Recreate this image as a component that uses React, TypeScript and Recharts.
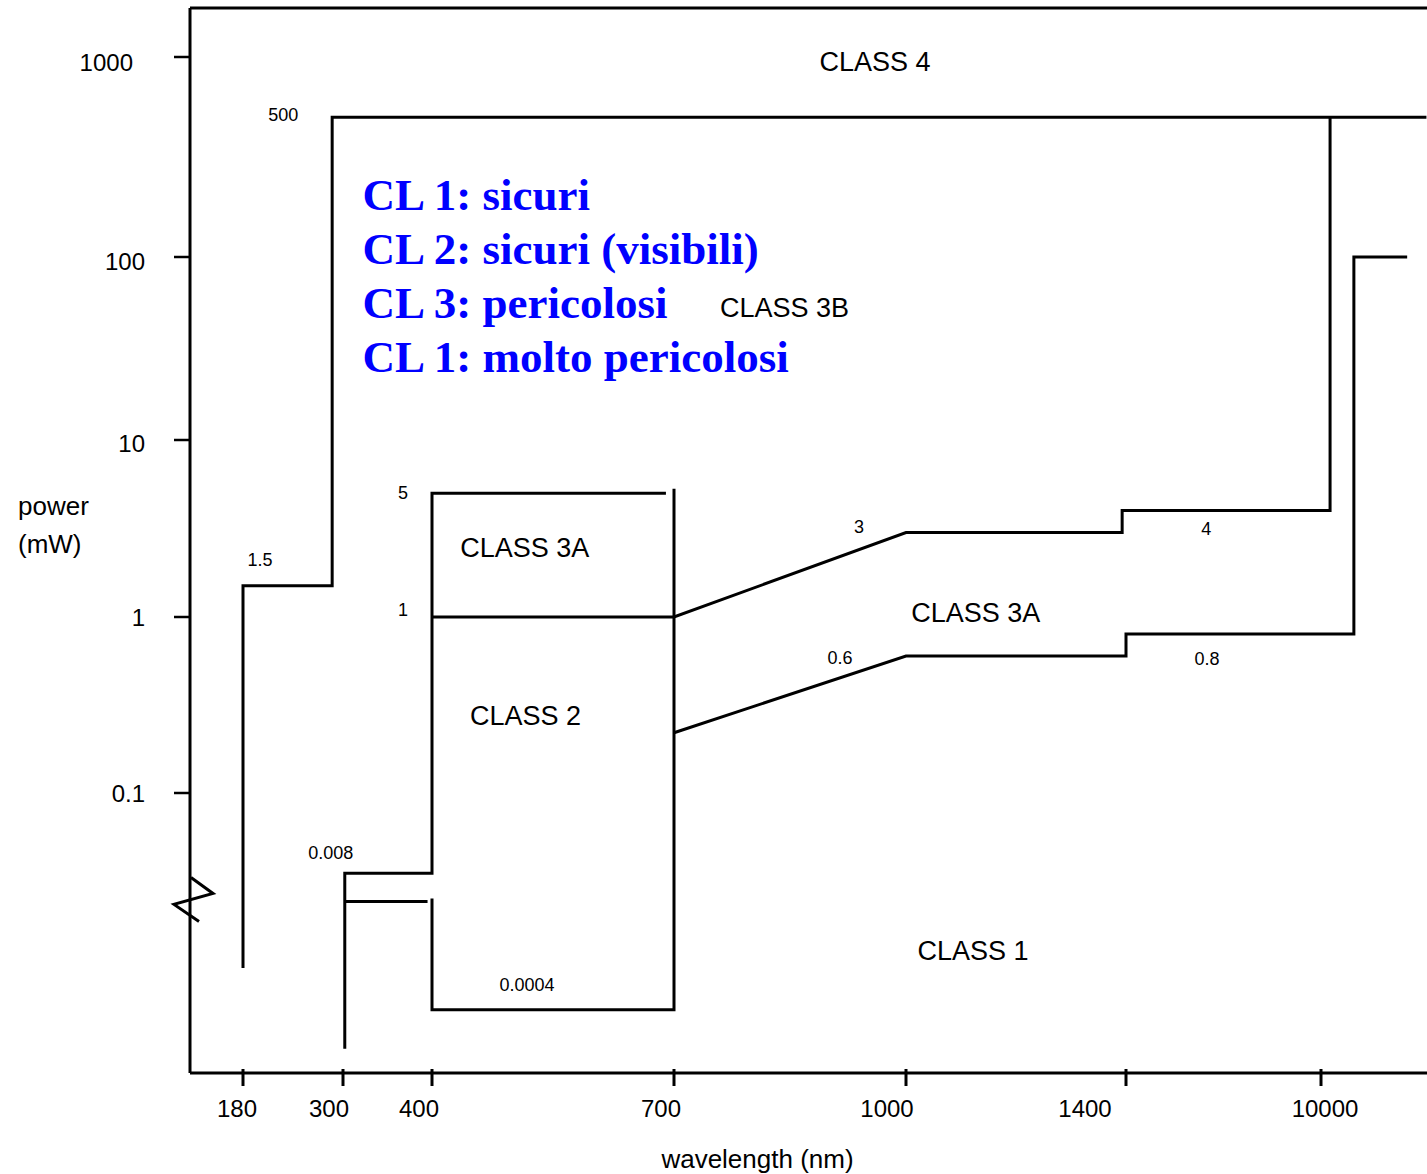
import React from "react";
import { ComposedChart, Line, Scatter, XAxis, YAxis, ReferenceLine } from "recharts";

// axis ticks (the drawing uses a hand-spaced wavelength axis and a broken log power axis)
const X_TICKS = [180, 300, 400, 700, 1000, 1400, 10000];
const Y_TICKS = [0.1, 1, 10, 100, 1000];

// class boundaries, [wavelength nm, power mW]
const class4Edge = [[180, 0.001], [180, 1.5], [287, 1.5], [287, 500], [14650, 500]];
const uvUpper = [[302, 0.00017], [302, 0.008], [400, 0.008], [400, 5], [690, 5]];
const uvLower = [[302, 0.0043], [395, 0.0043]];
const visibleBox = [[400, 0.0046], [400, 0.0004], [700, 0.0004], [700, 5.3]];
const class3aUpper = [[400, 1], [700, 1], [1000, 3], [1393, 3], [1393, 4], [10400, 4], [10400, 500]];
const class3aLower = [[700, 0.22], [1000, 0.6], [1400, 0.6], [1400, 0.8], [11450, 0.8], [11450, 100], [13800, 100]];

// limit values written next to the boundaries
const valueText = ["500", "1.5", "5", "1", "3", "4", "0.6", "0.8", "0.008", "0.0004"];
const valueAt = [[287, 500], [180, 1.5], [400, 5], [400, 1], [1000, 3], [1393, 4], [1000, 0.6], [1400, 0.8], [302, 0.008], [400, 0.0004]];

// region names
const classText = ["CLASS 4", "CLASS 3B", "CLASS 3A", "CLASS 2", "CLASS 3A", "CLASS 1"];
const classAt = [[960, 944], [843, 52.6], [515, 2.45], [516, 0.274], [1127, 1.05], [1122, 0.00145]];

const noteLines = ["CL 1: sicuri", "CL 2: sicuri (visibili)", "CL 3: pericolosi", "CL 1: molto pericolosi"];
const noteAt = [322, 172];
const breakAt = 0.0045;

// ---- scale shape (pixel offsets of the ticks inside the plot) ----
const X_AXIS_POS = [53, 153, 242, 484, 716, 936, 1131];
const Y_LOG_STOPS = [-4, -2, -1, 0, 1, 2, 3];
const Y_AXIS_POS = [0, 210, 280, 456, 633, 816, 1016];
const X_MAX = 1237;
const Y_MAX = 1065;

// label nudges, px
const VALUE_NUDGE = [[-49, -2], [17, -26], [-29, 0], [-29, -7], [-47, -6], [84, 19], [-66, 2], [81, 25], [-14, -20], [95, -25]];
const X_TICK_NUDGE = [-6, -14, -13, -13, -19, -41, 4];
const Y_TICK_NUDGE = [[0, 0], [0, 0], [0, 3], [0, 4], [-12, 5]];

const SANS = "'Liberation Sans', Arial, sans-serif";

function interp(v: number, xs: number[], ys: number[]) {
  let i = 0;
  while (i < xs.length - 2 && v > xs[i + 1]) i++;
  const t = (v - xs[i]) / (xs[i + 1] - xs[i]);
  return ys[i] + t * (ys[i + 1] - ys[i]);
}
const tx = (w: number) => interp(w, X_TICKS, X_AXIS_POS);
const ty = (p: number) => interp(Math.log10(p), Y_LOG_STOPS, Y_AXIS_POS);
const toPts = (path: number[][]) => path.map(([w, p]) => ({ x: tx(w), y: ty(p) }));

const paths = [class4Edge, uvUpper, uvLower, visibleBox, class3aUpper, class3aLower];

const valueData = valueText.map((text, i) => ({ x: tx(valueAt[i][0]), y: ty(valueAt[i][1]), text, i }));
const classData = classText.map((text, i) => ({ x: tx(classAt[i][0]), y: ty(classAt[i][1]), text }));
const noteData = [{ x: tx(noteAt[0]), y: ty(noteAt[1]) }];
const breakData = [{ x: 0, y: ty(breakAt) }];

function XTick(props: any) {
  const { x, y, index } = props;
  return (
    <g>
      <line x1={x} x2={x} y1={y - 4} y2={y + 13} stroke="#000" strokeWidth={3} />
      <text x={x + X_TICK_NUDGE[index]} y={y + 35} textAnchor="middle" dominantBaseline="central"
        fontFamily={SANS} fontSize={24} fill="#000">
        {X_TICKS[index]}
      </text>
    </g>
  );
}

function YTick(props: any) {
  const { x, y, index } = props;
  const [dx, dy] = Y_TICK_NUDGE[index];
  return (
    <g>
      <line x1={x - 16} x2={x} y1={y} y2={y} stroke="#000" strokeWidth={2.5} />
      <text x={x - 45 + dx} y={y + dy} textAnchor="end" dominantBaseline="central"
        fontFamily={SANS} fontSize={24} fill="#000">
        {Y_TICKS[index]}
      </text>
    </g>
  );
}

const PowerLabel = (props: any) => {
  const vb = props.viewBox;
  const cy = vb.y + vb.height / 2;
  return (
    <text x={vb.x + 18} y={cy - 26} fontFamily={SANS} fontSize={26} fill="#000">
      <tspan x={vb.x + 18}>power</tspan>
      <tspan x={vb.x + 18} dy={38}>(mW)</tspan>
    </text>
  );
};

const WavelengthLabel = (props: any) => {
  const vb = props.viewBox;
  return (
    <text x={vb.x + vb.width / 2 - 51} y={vb.y + 95} textAnchor="middle" fontFamily={SANS} fontSize={26} fill="#000">
      wavelength (nm)
    </text>
  );
};

export default function App() {
  return (
    <div style={{ position: "absolute", left: 0, top: 0, width: 1427, height: 1174, background: "#fff" }}>
      <ComposedChart width={1427} height={1174} margin={{ top: 8, right: 0, bottom: 0, left: 0 }}>
        <XAxis
          type="number"
          dataKey="x"
          domain={[0, X_MAX]}
          ticks={X_TICKS.map(tx)}
          interval={0}
          height={101}
          tickSize={0}
          tickMargin={0}
          tickLine={false}
          axisLine={{ stroke: "#000", strokeWidth: 3 }}
          tick={<XTick />}
          label={{ content: WavelengthLabel }}
        />
        <YAxis
          type="number"
          dataKey="y"
          domain={[0, Y_MAX]}
          ticks={Y_TICKS.map(ty)}
          interval={0}
          width={190}
          tickSize={0}
          tickMargin={0}
          tickLine={false}
          axisLine={{ stroke: "#000", strokeWidth: 3 }}
          tick={<YTick />}
          label={{ content: PowerLabel }}
        />
        <ReferenceLine y={Y_MAX} stroke="#000" strokeWidth={3} />
        {paths.map((p, i) => (
          <Line
            key={i}
            data={toPts(p)}
            dataKey="y"
            type="linear"
            stroke="#000"
            strokeWidth={3}
            dot={false}
            activeDot={false}
            isAnimationActive={false}
          />
        ))}
        <Scatter
          data={valueData}
          dataKey="y"
          isAnimationActive={false}
          shape={(s: any) => {
            const [dx, dy] = VALUE_NUDGE[s.payload.i];
            return (
              <text x={s.cx + dx} y={s.cy + dy} textAnchor="middle" dominantBaseline="central"
                fontFamily={SANS} fontSize={18} fill="#000">
                {s.payload.text}
              </text>
            );
          }}
        />
        <Scatter
          data={classData}
          dataKey="y"
          isAnimationActive={false}
          shape={(s: any) => (
            <text x={s.cx} y={s.cy} textAnchor="middle" dominantBaseline="central"
              fontFamily={SANS} fontSize={27} fill="#000">
              {s.payload.text}
            </text>
          )}
        />
        <Scatter
          data={noteData}
          dataKey="y"
          isAnimationActive={false}
          shape={(s: any) => (
            <text fontFamily="'Liberation Serif', 'Times New Roman', serif" fontWeight="bold" fontSize={45} fill="#0000ff">
              {noteLines.map((t, i) => (
                <tspan key={i} x={s.cx} y={s.cy + i * 54}>{t}</tspan>
              ))}
            </text>
          )}
        />
        <Scatter
          data={breakData}
          dataKey="y"
          isAnimationActive={false}
          shape={(s: any) => (
            <polyline
              points={`${s.cx + 1},${s.cy - 22} ${s.cx + 23},${s.cy - 6} ${s.cx - 16},${s.cy + 5} ${s.cx + 9},${s.cy + 22}`}
              fill="none"
              stroke="#000"
              strokeWidth={3}
            />
          )}
        />
      </ComposedChart>
    </div>
  );
}
